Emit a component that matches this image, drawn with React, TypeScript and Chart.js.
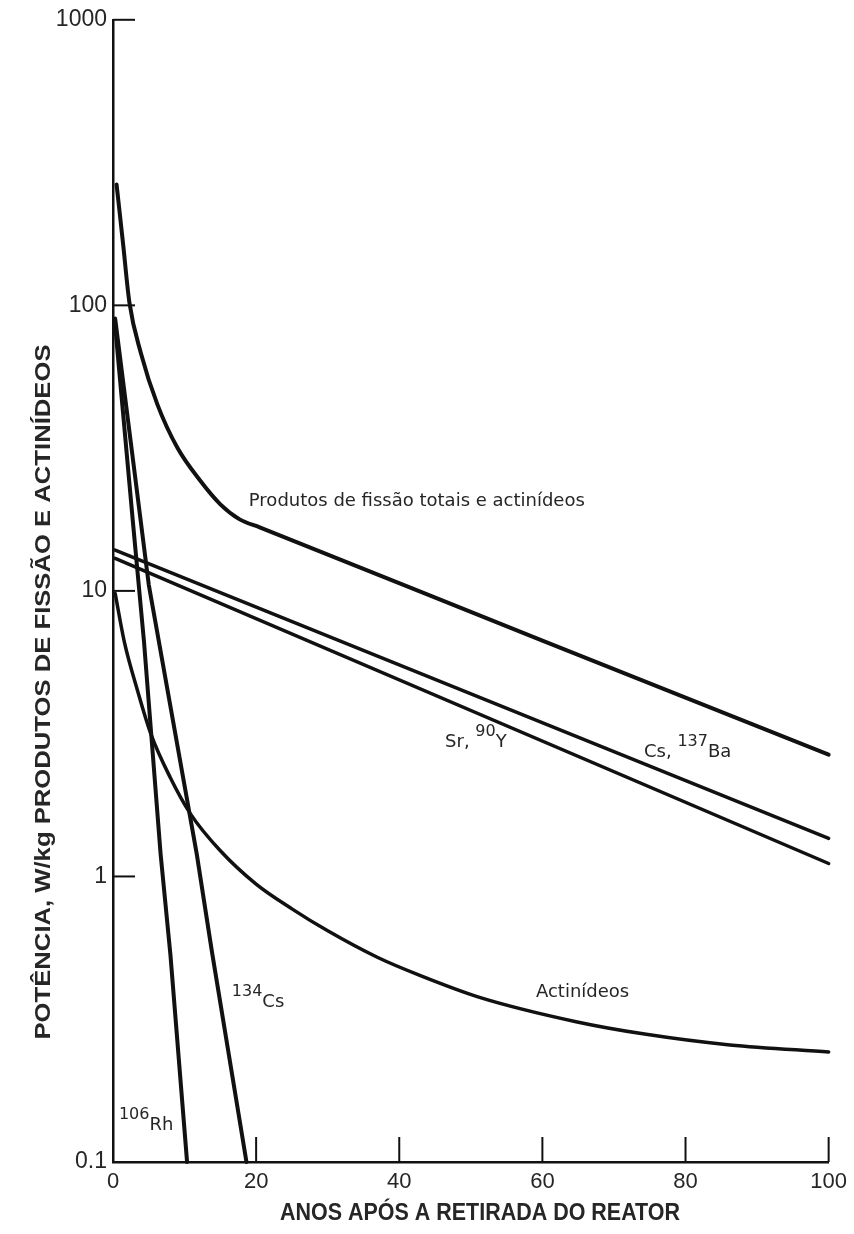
import React, { useEffect, useRef } from 'react';
import { Chart, registerables } from 'chart.js';

Chart.register(...registerables);

// ---- axes ----
const xTickValues = [0, 20, 40, 60, 80, 100];
const xTickLabels = ['0', '20', '40', '60', '80', '100'];
const yTickValues = [0.1, 1, 10, 100, 1000];
const yTickLabels = ['0.1', '1', '10', '100', '1000'];
const xTitle = 'ANOS APÓS A RETIRADA DO REATOR';
const yTitle = 'POTÊNCIA, W/kg PRODUTOS DE FISSÃO E ACTINÍDEOS';

// ---- series (years after removal, W/kg) ----
const totalYears = [0.5, 1.4, 2.3, 3.9, 6.2, 9, 12.2, 15, 17.7, 20.5, 60, 100];
const totalPower = [265, 165, 102, 68, 45, 31.7, 24.3, 20.1, 17.8, 16.7, 6.7, 2.67];

const cs137Years = [0.3, 100];
const cs137Power = [13.9, 1.36];

const sr90Years = [0.3, 100];
const sr90Power = [13.0, 1.11];

const actYears = [0.3, 1.6, 3.4, 5.3, 8, 10.8, 15, 20, 25, 30, 37, 42.7, 51.1, 64.7, 74.5, 86.2, 100];
const actPower = [9.8, 6.6, 4.5, 3.15, 2.22, 1.66, 1.23, 0.94, 0.77, 0.645, 0.52, 0.452, 0.378, 0.31, 0.28, 0.257, 0.243];

const cs134Years = [0.3, 5, 11.7, 13.8, 18.65];
const cs134Power = [90, 10.5, 1.2, 0.55, 0.1];

const rh106Years = [0.3, 2.73, 4.34, 6.65, 8.03, 10.35];
const rh106Power = [85, 18, 6.6, 1.2, 0.53, 0.1];

// ---- curve labels: text parts [text, isSuperscript] and anchor in data units ----
const labelTotal: [string, boolean][] = [['Produtos de fissão totais e actinídeos', false]];
const labelAct: [string, boolean][] = [['Actinídeos', false]];
const labelCs137: [string, boolean][] = [['Cs, ', false], ['137', true], ['Ba', false]];
const labelSr90: [string, boolean][] = [['Sr, ', false], ['90', true], ['Y', false]];
const labelCs134: [string, boolean][] = [['134', true], ['Cs', false]];
const labelRh106: [string, boolean][] = [['106', true], ['Rh', false]];

const labelAnchorsX = [18.98, 59.1, 74.2, 46.4, 16.6, 0.83];
const labelAnchorsY = [19.8, 0.378, 2.61, 2.84, 0.348, 0.129];
const labelParts = [labelTotal, labelAct, labelCs137, labelSr90, labelCs134, labelRh106];

const toPoints = (xs: number[], ys: number[]) => xs.map((x, i) => ({ x, y: ys[i] }));

const LINE = '#111111';
const TEXT = '#262626';

function drawFitted(ctx: CanvasRenderingContext2D, text: string, cx: number, cy: number, width: number, font: string, rotate: boolean) {
  ctx.save();
  ctx.font = font;
  const w = ctx.measureText(text).width;
  ctx.translate(cx, cy);
  if (rotate) ctx.rotate(-Math.PI / 2);
  ctx.scale(width / w, 1);
  ctx.textAlign = 'center';
  ctx.textBaseline = 'alphabetic';
  ctx.fillStyle = TEXT;
  ctx.fillText(text, 0, 0);
  ctx.restore();
}

const overlay = {
  id: 'overlay',
  afterDraw(chart: any) {
    const { ctx, chartArea: a, scales } = chart;
    const xs = scales.x;
    const ys = scales.y;
    ctx.save();
    ctx.strokeStyle = LINE;
    ctx.lineWidth = 2;
    yTickValues.filter((v) => v >= 1).forEach((v) => {
      const py = ys.getPixelForValue(v);
      ctx.beginPath();
      ctx.moveTo(a.left, py);
      ctx.lineTo(a.left + 22, py);
      ctx.stroke();
    });
    xTickValues.filter((v) => v > 0).forEach((v) => {
      const px = xs.getPixelForValue(v);
      ctx.beginPath();
      ctx.moveTo(px, a.bottom);
      ctx.lineTo(px, a.bottom - 25);
      ctx.stroke();
    });

    drawFitted(ctx, xTitle, 480, 1220, 400, 'bold 24px "Liberation Sans"', false);
    drawFitted(ctx, yTitle, 50, 692, 695, 'bold 22px "Liberation Sans"', true);

    ctx.fillStyle = TEXT;
    ctx.textBaseline = 'alphabetic';
    ctx.textAlign = 'left';
    labelParts.forEach((parts, i) => {
      let px = xs.getPixelForValue(labelAnchorsX[i]);
      const py = ys.getPixelForValue(labelAnchorsY[i]);
      parts.forEach(([t, sup]) => {
        ctx.font = sup ? '16px "DejaVu Sans"' : '18px "DejaVu Sans"';
        ctx.fillText(t, px, sup ? py - 11 : py);
        px += ctx.measureText(t).width;
      });
    });
    ctx.restore();
  },
};

export default function App() {
  const ref = useRef<HTMLCanvasElement>(null);
  useEffect(() => {
    if (!ref.current) return;
    const ds = (xs: number[], ys: number[], width: number, smooth: boolean) => ({
      data: toPoints(xs, ys),
      borderColor: LINE,
      borderWidth: width,
      pointRadius: 0,
      fill: false,
      cubicInterpolationMode: smooth ? 'monotone' : 'default',
      tension: 0,
      clip: false,
      borderJoinStyle: 'round',
      borderCapStyle: 'round',
    });
    const chart = new Chart(ref.current, {
      type: 'line',
      data: {
        datasets: [
          ds(totalYears, totalPower, 4, true),
          ds(cs137Years, cs137Power, 3.5, false),
          ds(sr90Years, sr90Power, 3.5, false),
          ds(actYears, actPower, 3.5, true),
          ds(cs134Years, cs134Power, 4, false),
          ds(rh106Years, rh106Power, 4, false),
        ] as any,
      },
      options: {
        responsive: false,
        animation: false,
        events: [],
        layout: { padding: { left: 0, right: 21, top: 18, bottom: 0 } },
        plugins: { legend: { display: false }, tooltip: { enabled: false } },
        scales: {
          x: {
            type: 'linear',
            min: 0,
            max: 100,
            afterFit: (s: any) => { s.height = 72; },
            afterBuildTicks: (s: any) => { s.ticks = xTickValues.map((v) => ({ value: v })); },
            grid: { display: false, drawTicks: false },
            border: { display: true, color: LINE, width: 2.5 },
            ticks: {
              padding: 7,
              autoSkip: false,
              maxRotation: 0,
              color: TEXT,
              font: { family: '"Liberation Sans"', size: 22 },
              callback: (v: any) => xTickLabels[xTickValues.indexOf(Number(v))] ?? '',
            },
          },
          y: {
            type: 'logarithmic',
            min: 0.1,
            max: 1000,
            afterFit: (s: any) => { s.width = 113; },
            afterBuildTicks: (s: any) => { s.ticks = yTickValues.map((v) => ({ value: v })); },
            grid: { display: false, drawTicks: false },
            border: { display: true, color: LINE, width: 2.5 },
            ticks: {
              padding: 6,
              autoSkip: false,
              color: TEXT,
              font: { family: '"Liberation Sans"', size: 23 },
              callback: (v: any) => {
                const i = yTickValues.findIndex((t) => Math.abs(t - Number(v)) < 1e-9);
                return i >= 0 ? yTickLabels[i] : '';
              },
            },
          },
        },
      } as any,
      plugins: [overlay],
    });
    return () => chart.destroy();
  }, []);
  return (
    <div style={{ position: 'absolute', left: 0, top: 0, width: 854, height: 1234, background: '#fff' }}>
      <canvas ref={ref} width={854} height={1234} style={{ width: 854, height: 1234 }} />
    </div>
  );
}
